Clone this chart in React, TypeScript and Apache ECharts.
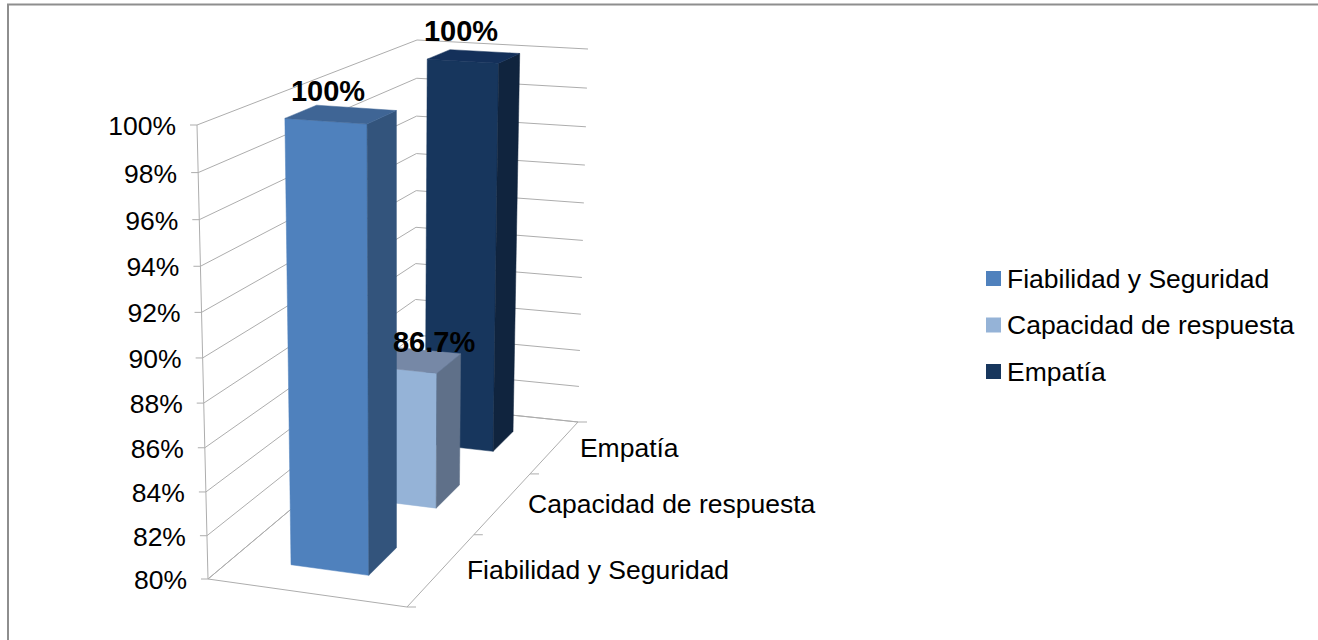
import React, { useEffect, useRef } from "react";
import * as echarts from "echarts";

const categories = ["Fiabilidad y Seguridad", "Capacidad de respuesta", "Empatía"];
const values = [100, 86.7, 100];
const valueLabels = ["100%", "86.7%", "100%"];
const yTicks = [80, 82, 84, 86, 88, 90, 92, 94, 96, 98, 100];
const frontColors = ["#4F81BD", "#95B3D7", "#17365D"];
const topColors = ["#3F6595", "#7688A6", "#14305A"];
const sideColors = ["#33547C", "#5F7089", "#10243E"];

const FONT = '"Liberation Sans", Arial, sans-serif';
const LINE = "#ADADAD";
const BORDER = "#8E8E8E";
const F0: number[][] = [[208, 579], [407, 607], [415, 405], [578, 422]];
const C0: number[][] = [[197, 125], [407.5, 140], [417, 40], [588, 49]];
const U_L = 0.292;
const U_R = 0.692;
const DEPTH_RATIO = 0.39;
const LABEL_OFFSETS: number[][] = [[-13.5, -23], [21.5, -18], [-13, -25]];
const AXIS_FONT_SIZE = 26.5;
const DATA_FONT_SIZE = 29;

function project(u: number, vf: number, wf: number): number[] {
  const v = vf / (vf + 1.054 * (1 - vf));
  const t = wf / (wf + 0.78 * (1 - wf));
  const corner = (c: number[][], k: number) =>
    (1 - t) * ((1 - u) * c[0][k] + u * c[1][k]) + t * ((1 - u) * c[2][k] + u * c[3][k]);
  return [0, 1].map((k) => (1 - v) * corner(F0, k) + v * corner(C0, k));
}

function fractions(params: any, api: any, cat: number, val: number) {
  const cs = params.coordSys;
  const p = api.coord([cat, val]);
  return {
    w: (p[0] - cs.x) / cs.width,
    v: (cs.y + cs.height - p[1]) / cs.height,
    band: api.size([1, 0])[0] / cs.width,
  };
}

const seg = (a: number[], b: number[]) => ({
  type: "polyline",
  silent: true,
  shape: { points: [a, b] },
  style: { stroke: LINE, lineWidth: 1, fill: "none" },
});

const poly = (points: number[][], fill: string) => ({
  type: "polygon",
  silent: true,
  shape: { points },
  style: { fill, stroke: fill, lineWidth: 0.5 },
});

const txt = (text: string, x: number, y: number, align: string, size: number, weight = "normal") => ({
  type: "text",
  silent: true,
  style: {
    text,
    x,
    y,
    align,
    verticalAlign: "middle",
    fill: "#000000",
    fontFamily: FONT,
    fontSize: size,
    fontWeight: weight,
  },
});

const renderWall = (params: any, api: any) => {
  const t = api.value(1);
  const { v } = fractions(params, api, 0, t);
  const a = project(0, v, 0);
  const b = project(0, v, 1);
  const c = project(1, v, 1);
  const children: any[] = [
    {
      type: "polyline",
      silent: true,
      shape: { points: [a, b, c] },
      style: { stroke: LINE, lineWidth: 1, fill: "none" },
    },
    seg([a[0] - 7, a[1]], a),
    txt(`${t}%`, a[0] - 21, a[1] + 1, "right", AXIS_FONT_SIZE),
  ];
  return { type: "group", children };
};

const renderFrame = (params: any, api: any) => {
  const i = api.value(0);
  const { w, band } = fractions(params, api, i, 80);
  const children: any[] = [];
  const near = w - band / 2;
  const far = w + band / 2;
  const a = project(1, 0, near);
  const b = project(1, 0, far);
  children.push(seg(a, b), seg([b[0], b[1]], [b[0] + 9, b[1]]));
  if (params.dataIndex === 0) {
    children.push(
      seg([a[0], a[1]], [a[0] + 9, a[1]]),
      seg(project(0, 0, 0), project(1, 0, 0)),
      seg(project(0, 0, 0), project(0, 1, 0)),
      seg(project(0, 0, 0), project(0, 0, 1)),
      seg(project(0, 0, 1), project(1, 0, 1))
    );
  }
  const mid = project(1, 0, w);
  children.push(txt(categories[i], mid[0] + 25, mid[1] + 1, "left", AXIS_FONT_SIZE));
  return { type: "group", children };
};

const renderBar = (params: any, api: any) => {
  const i = api.value(0);
  const { w, v, band } = fractions(params, api, i, api.value(1));
  const dw = (band * DEPTH_RATIO) / 2;
  const n = w - dw;
  const f = w + dw;
  const front = [project(U_L, 0, n), project(U_R, 0, n), project(U_R, v, n), project(U_L, v, n)];
  const side = [project(U_R, 0, n), project(U_R, 0, f), project(U_R, v, f), project(U_R, v, n)];
  const top = [project(U_L, v, n), project(U_R, v, n), project(U_R, v, f), project(U_L, v, f)];
  return {
    type: "group",
    children: [poly(front, frontColors[i]), poly(side, sideColors[i]), poly(top, topColors[i])],
  };
};

const renderLabel = (params: any, api: any) => {
  const i = api.value(0);
  const { w, v } = fractions(params, api, i, api.value(1));
  const c = project((U_L + U_R) / 2, v, w);
  const o = LABEL_OFFSETS[i];
  return txt(valueLabels[i], c[0] + o[0], c[1] + o[1], "center", DATA_FONT_SIZE, "bold");
};

const barSeries = (i: number, z: number) => ({
  type: "custom",
  name: categories[i],
  z,
  renderItem: renderBar,
  encode: { x: 0, y: 1 },
  itemStyle: { color: frontColors[i] },
  data: [[i, values[i]]],
  silent: true,
});

export default function App() {
  const ref = useRef<HTMLDivElement>(null);
  useEffect(() => {
    const chart = echarts.init(ref.current!, undefined, { renderer: "svg" });
    chart.setOption({
      animation: false,
      backgroundColor: "#FFFFFF",
      grid: { left: 100, top: 100, width: 300, height: 300, show: false },
      xAxis: { type: "category", data: categories, show: false },
      yAxis: { type: "value", min: 80, max: 100, interval: 2, show: false },
      legend: {
        orient: "vertical",
        left: 981,
        top: 260,
        itemWidth: 15,
        itemHeight: 15,
        itemGap: 19.5,
        selectedMode: false,
        icon: "rect",
        textStyle: {
          fontFamily: FONT,
          fontSize: AXIS_FONT_SIZE,
          color: "#000000",
          padding: [0, 0, 0, 1],
        },
        data: categories.map((name, i) => ({ name, itemStyle: { color: frontColors[i] } })),
      },
      graphic: [
        {
          type: "line",
          silent: true,
          shape: { x1: 7, y1: 4.5, x2: 1318, y2: 4.5 },
          style: { stroke: BORDER, lineWidth: 2 },
        },
        {
          type: "line",
          silent: true,
          shape: { x1: 8, y1: 4, x2: 8, y2: 640 },
          style: { stroke: BORDER, lineWidth: 2 },
        },
      ],
      series: [
        {
          type: "custom",
          name: "walls",
          z: 1,
          renderItem: renderWall,
          encode: { x: 0, y: 1 },
          data: yTicks.map((t) => [0, t]),
          silent: true,
        },
        {
          type: "custom",
          name: "frame",
          z: 1,
          renderItem: renderFrame,
          encode: { x: 0, y: 1 },
          data: categories.map((_, i) => [i, 80]),
          silent: true,
        },
        barSeries(2, 2),
        barSeries(1, 3),
        barSeries(0, 4),
        {
          type: "custom",
          name: "labels",
          z: 5,
          renderItem: renderLabel,
          encode: { x: 0, y: 1 },
          data: values.map((v, i) => [i, v]),
          silent: true,
        },
      ],
    });
    return () => chart.dispose();
  }, []);
  return (
    <div
      ref={ref}
      style={{ position: "fixed", left: 0, top: 0, width: 1318, height: 640, background: "#fff" }}
    />
  );
}
